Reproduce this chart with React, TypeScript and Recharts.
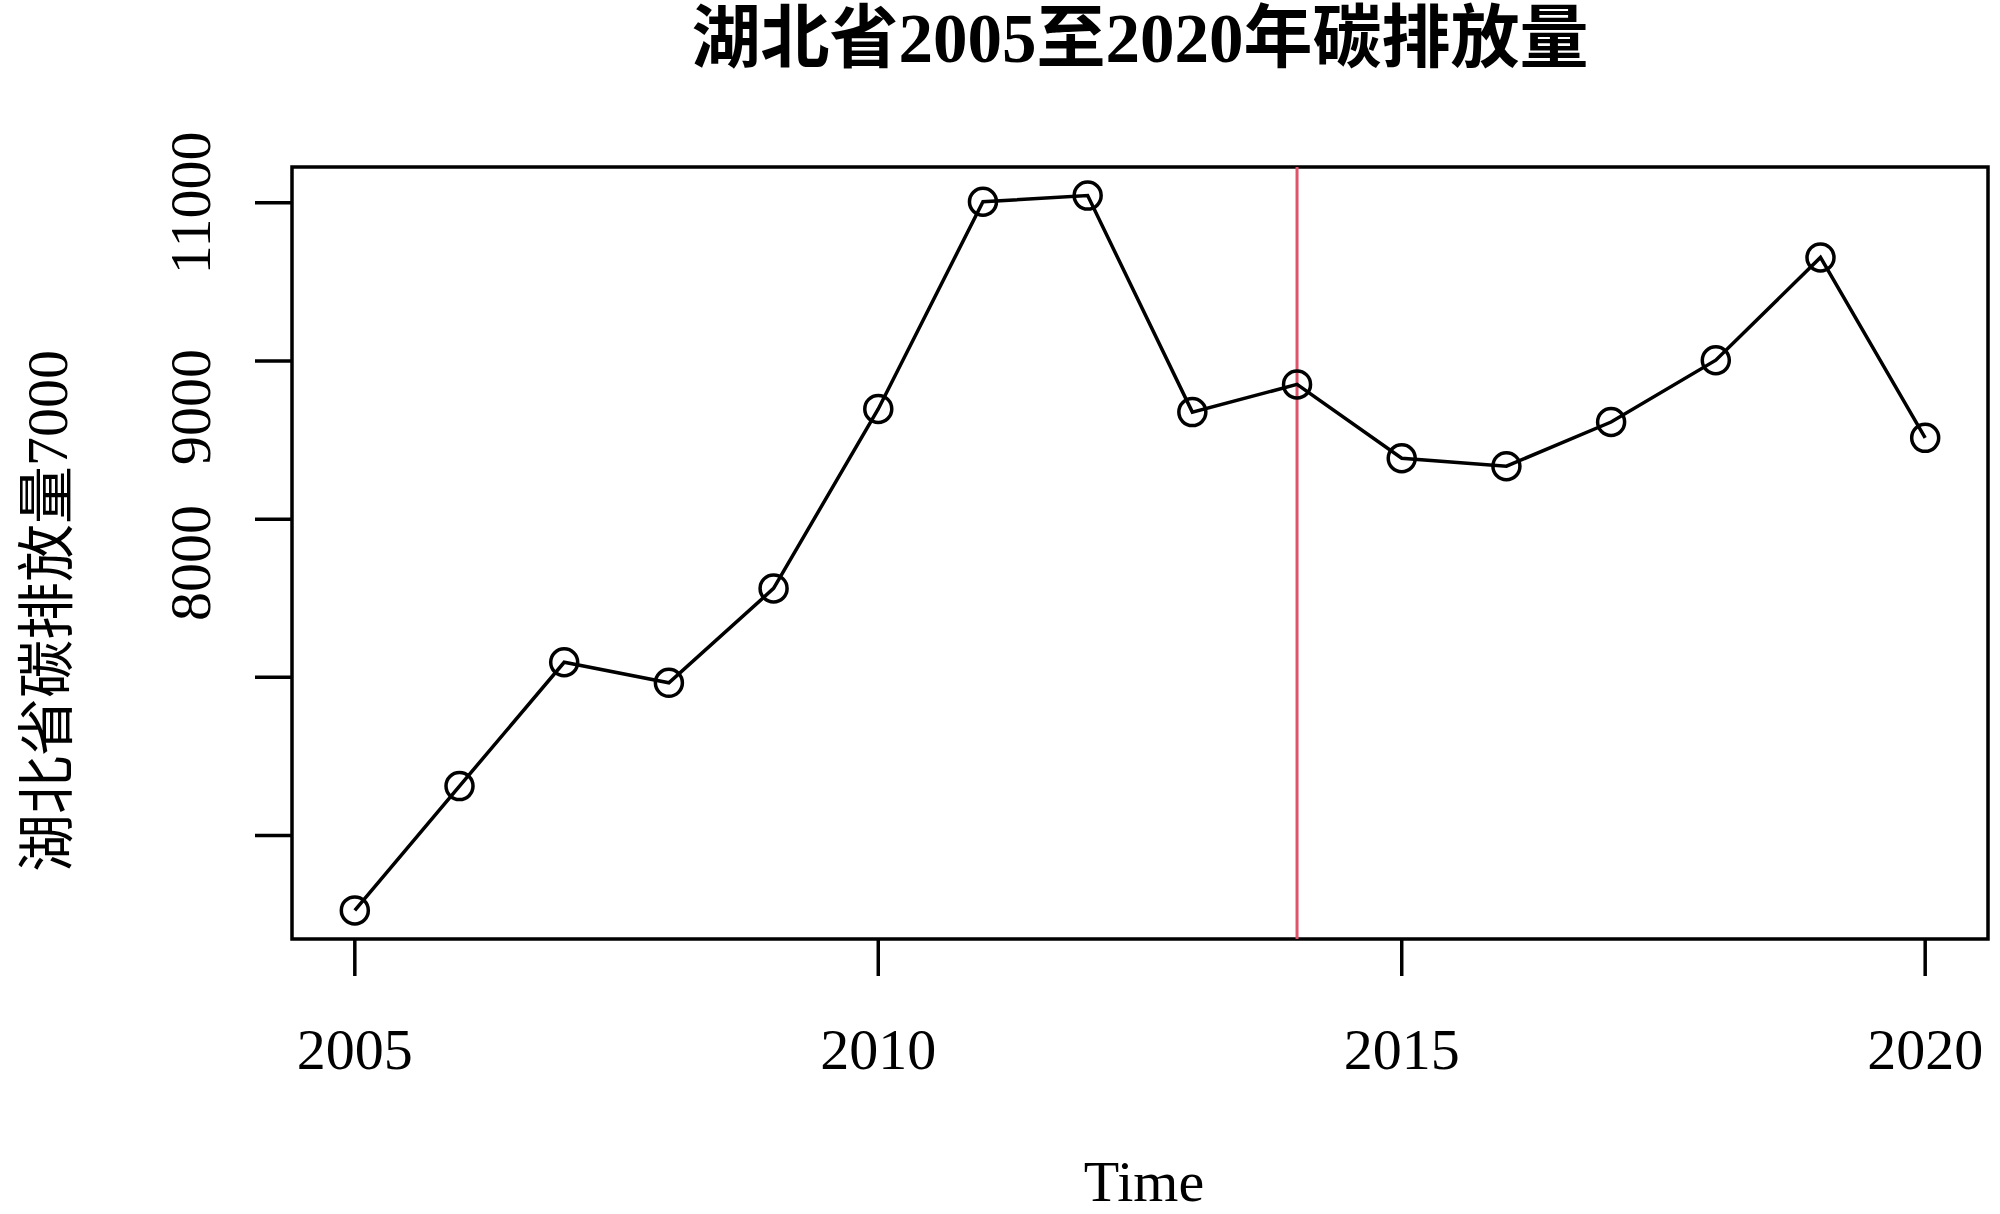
import React from "react";
import { LineChart, Line, XAxis, YAxis, ReferenceArea, ReferenceLine } from "recharts";

const years = [2005, 2006, 2007, 2008, 2009, 2010, 2011, 2012, 2013, 2014, 2015, 2016, 2017, 2018, 2019, 2020];
const emissions = [6526, 7312, 8095, 7965, 8562, 9697, 11007, 11046, 9677, 9852, 9385, 9335, 9614, 10005, 10655, 9514];
const xTicks = [2005, 2010, 2015, 2020];
const yTicks = [7000, 8000, 9000, 10000, 11000];
// tick labels as they appear in the reference (displaced)
const yLabelValues = [11000, 9709, 8723];
const yLabelTexts = ["11000", "9000", "8000"];
const breakYear = 2014;
const title = "湖北省2005至2020年碳排放量";
const yTitle = "湖北省碳排放量7000";
const xTitle = "Time";

const data = years.map((year, i) => ({ year, value: emissions[i] }));

// R-style 4% axis extension
const yMinData = Math.min(...emissions);
const yMaxData = Math.max(...emissions);
const yPad = (yMaxData - yMinData) * 0.04;
const yDomain: [number, number] = [yMinData - yPad, yMaxData + yPad];
const xPad = (years[years.length - 1] - years[0]) * 0.04;
const xDomain: [number, number] = [years[0] - xPad, years[years.length - 1] + xPad];
const yAllTicks = Array.from(new Set([...yTicks, ...yLabelValues])).sort((a, b) => a - b);

const SERIF = '"Liberation Serif", "Times New Roman", "Noto Sans CJK SC", serif';
const FS = 58;
const TICK_LEN = 37;

const XTick = (props: any) => {
  const { x, y, payload } = props;
  return (
    <text x={x} y={y + 91} textAnchor="middle" fontSize={FS} fontFamily={SERIF} fill="#000">
      {payload.value}
    </text>
  );
};

const YTick = (props: any) => {
  const { x, y, payload } = props;
  const v = payload.value;
  const isTick = yTicks.includes(v);
  const li = yLabelValues.indexOf(v);
  return (
    <g>
      {isTick && (
        <line x1={x + 2} x2={x + 2 + TICK_LEN} y1={y} y2={y} stroke="#000" strokeWidth={3.5} />
      )}
      {li >= 0 && (
        <text
          transform={`translate(${x - 43},${y}) rotate(-90)`}
          textAnchor="middle"
          fontSize={FS}
          fontFamily={SERIF}
          fill="#000"
        >
          {yLabelTexts[li]}
        </text>
      )}
    </g>
  );
};

const XLabel = (props: any) => {
  const vb = props.viewBox || {};
  return (
    <text x={vb.x + vb.width / 2 + 4} y={vb.y + 262} textAnchor="middle" fontSize={FS} fontFamily={SERIF} fill="#000">
      {xTitle}
    </text>
  );
};

const YLabel = (props: any) => {
  const vb = props.viewBox || {};
  const cy = vb.y + vb.height / 2 + 58;
  return (
    <text
      transform={`translate(${67},${cy}) rotate(-90)`}
      textAnchor="middle"
      fontSize={FS}
      fontFamily={SERIF}
      fill="#000"
    >
      {yTitle}
    </text>
  );
};

export default function App() {
  return (
    <div style={{ position: "absolute", left: 0, top: 0, width: 2000, height: 1214, background: "#fff" }}>
      <LineChart width={2000} height={1214} data={data} margin={{ top: 167, right: 12, bottom: 0, left: 0 }}>
        <XAxis
          dataKey="year"
          type="number"
          domain={xDomain}
          ticks={xTicks}
          allowDataOverflow
          height={275}
          tickSize={TICK_LEN}
          axisLine={false}
          tickLine={{ stroke: "#000", strokeWidth: 3.5 }}
          tick={<XTick />}
          interval={0}
          label={<XLabel />}
        />
        <YAxis
          type="number"
          domain={yDomain}
          ticks={yAllTicks}
          allowDataOverflow
          width={292}
          tickSize={TICK_LEN}
          axisLine={false}
          tickLine={false}
          tick={<YTick />}
          interval={0}
          label={<YLabel />}
        />
        <ReferenceArea
          x1={xDomain[0]}
          x2={xDomain[1]}
          y1={yDomain[0]}
          y2={yDomain[1]}
          fill="none"
          fillOpacity={0}
          stroke="#000"
          strokeWidth={3.5}
          ifOverflow="visible"
        />
        <ReferenceLine x={breakYear} stroke="#DF536B" strokeWidth={3} />
        <Line
          type="linear"
          dataKey="value"
          stroke="#000"
          strokeWidth={3.5}
          dot={{ r: 13.5, fill: "none", stroke: "#000", strokeWidth: 3.5 }}
          isAnimationActive={false}
        />
      </LineChart>
      <svg
        width={2000}
        height={100}
        style={{ position: "absolute", left: 0, top: 0, pointerEvents: "none" }}
      >
        <text
          x={1140}
          y={62}
          textAnchor="middle"
          fontSize={69}
          fontWeight="bold"
          fontFamily={SERIF}
          fill="#000"
        >
          {title}
        </text>
      </svg>
    </div>
  );
}
